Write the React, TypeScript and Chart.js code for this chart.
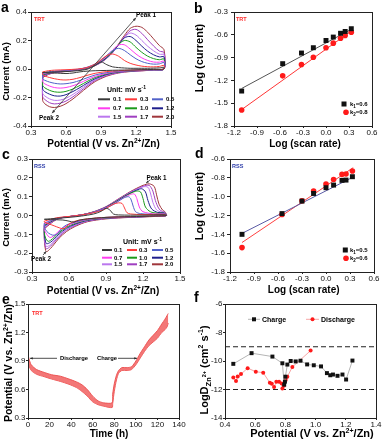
import React, { useEffect, useRef } from 'react';
import { Chart, registerables } from 'chart.js';

Chart.register(...registerables);

const FONT = '"Liberation Sans", Arial, Helvetica, sans-serif';

/* ======================= DATA ======================= */
const SCAN_RATES = ['0.1', '0.3', '0.5', '0.7', '1.0', '1.2', '1.5', '1.7', '2.0'];
const CV_COLORS = ['#3a3a3a', '#ff3b3b', '#5262c9', '#ff3cf0', '#1b9a1b', '#1e1e8c', '#bb77ee', '#9f3fc0', '#a0363c'];

// (a) TRT CV curves: potential grids (V) and currents (mA)
const A_V_UP = [0.40, 0.45, 0.50, 0.60, 0.70, 0.78, 0.85, 0.90, 0.95, 1.00, 1.05, 1.10, 1.15, 1.20, 1.25, 1.30, 1.35, 1.40, 1.44];
const A_V_DOWN = [1.44, 1.35, 1.25, 1.15, 1.05, 0.95, 0.85, 0.78, 0.72, 0.66, 0.60, 0.55, 0.50, 0.46, 0.42, 0.40];

const A_UP_01 = [-0.025, -0.022, -0.020, -0.018, -0.012, -0.002, 0.025, 0.050, 0.030, 0.015, 0.010, 0.007, 0.005, 0.005, 0.005, 0.005, 0.006, 0.008, 0.012];
const A_DN_01 = [0.000, -0.003, -0.005, -0.007, -0.008, -0.010, -0.012, -0.015, -0.020, -0.028, -0.032, -0.030, -0.028, -0.027, -0.026, -0.025];
const A_UP_03 = [-0.020, -0.012, -0.008, -0.005, 0.000, 0.010, 0.035, 0.065, 0.095, 0.105, 0.090, 0.060, 0.040, 0.028, 0.020, 0.016, 0.015, 0.018, 0.025];
const A_DN_03 = [0.000, -0.003, -0.006, -0.008, -0.012, -0.018, -0.030, -0.045, -0.060, -0.072, -0.077, -0.075, -0.068, -0.060, -0.050, -0.040];
const A_UP_05 = [-0.030, -0.020, -0.015, -0.010, -0.002, 0.012, 0.035, 0.060, 0.095, 0.130, 0.145, 0.130, 0.100, 0.072, 0.052, 0.040, 0.034, 0.036, 0.045];
const A_DN_05 = [0.000, -0.004, -0.007, -0.010, -0.015, -0.025, -0.042, -0.062, -0.080, -0.095, -0.103, -0.105, -0.100, -0.092, -0.080, -0.070];
const A_UP_07 = [-0.035, -0.025, -0.018, -0.012, -0.004, 0.010, 0.033, 0.057, 0.090, 0.133, 0.168, 0.170, 0.140, 0.105, 0.078, 0.060, 0.049, 0.048, 0.055];
const A_DN_07 = [0.000, -0.005, -0.008, -0.012, -0.018, -0.030, -0.052, -0.075, -0.098, -0.117, -0.130, -0.134, -0.130, -0.120, -0.105, -0.090];
const A_UP_10 = [-0.040, -0.028, -0.020, -0.013, -0.005, 0.008, 0.030, 0.053, 0.085, 0.125, 0.172, 0.200, 0.190, 0.152, 0.117, 0.090, 0.073, 0.065, 0.070];
const A_DN_10 = [0.000, -0.005, -0.009, -0.013, -0.020, -0.034, -0.060, -0.088, -0.115, -0.140, -0.157, -0.163, -0.160, -0.150, -0.133, -0.115];
const A_UP_12 = [-0.045, -0.030, -0.022, -0.014, -0.006, 0.007, 0.028, 0.050, 0.080, 0.120, 0.170, 0.218, 0.228, 0.200, 0.160, 0.125, 0.100, 0.085, 0.085];
const A_DN_12 = [0.000, -0.006, -0.010, -0.014, -0.022, -0.038, -0.068, -0.100, -0.130, -0.158, -0.180, -0.190, -0.188, -0.177, -0.160, -0.140];
const A_UP_15 = [-0.050, -0.033, -0.024, -0.015, -0.006, 0.006, 0.026, 0.048, 0.078, 0.117, 0.168, 0.222, 0.252, 0.238, 0.200, 0.160, 0.128, 0.104, 0.100];
const A_DN_15 = [0.000, -0.006, -0.011, -0.015, -0.024, -0.042, -0.075, -0.110, -0.145, -0.178, -0.205, -0.218, -0.220, -0.210, -0.190, -0.170];
const A_UP_17 = [-0.055, -0.035, -0.025, -0.016, -0.006, 0.005, 0.025, 0.047, 0.076, 0.115, 0.170, 0.225, 0.268, 0.278, 0.250, 0.205, 0.162, 0.126, 0.115];
const A_DN_17 = [0.000, -0.007, -0.012, -0.016, -0.026, -0.045, -0.080, -0.120, -0.158, -0.195, -0.225, -0.240, -0.245, -0.237, -0.215, -0.195];
const A_UP_20 = [-0.060, -0.038, -0.027, -0.017, -0.007, 0.004, 0.024, 0.046, 0.076, 0.118, 0.175, 0.235, 0.285, 0.300, 0.292, 0.258, 0.212, 0.165, 0.135];
const A_DN_20 = [0.000, -0.007, -0.013, -0.018, -0.028, -0.050, -0.088, -0.130, -0.170, -0.210, -0.243, -0.262, -0.270, -0.265, -0.245, -0.220];

const A_UP = [A_UP_01, A_UP_03, A_UP_05, A_UP_07, A_UP_10, A_UP_12, A_UP_15, A_UP_17, A_UP_20];
const A_DN = [A_DN_01, A_DN_03, A_DN_05, A_DN_07, A_DN_10, A_DN_12, A_DN_15, A_DN_17, A_DN_20];

// (b) TRT log(peak current) vs log(scan rate)
const B_LOG_RATE = [-1.1, -0.565, -0.32, -0.165, 0.0, 0.095, 0.19, 0.25, 0.33];
const B_PEAK1 = [-1.34, -0.98, -0.84, -0.77, -0.675, -0.63, -0.58, -0.556, -0.52];
const B_PEAK2 = [-1.59, -1.14, -0.99, -0.895, -0.77, -0.71, -0.645, -0.61, -0.565];
const B_FIT_X = [-1.1, 0.335];
const B_FIT1_Y = [-1.306, -0.525];
const B_FIT2_Y = [-1.584, -0.547];

// (c) RSS CV loops [V, mA]
const C_01 = [[0.40, -0.020], [0.50, -0.015], [0.60, -0.010], [0.70, -0.003], [0.80, 0.008], [0.86, 0.022], [0.90, 0.038], [0.93, 0.030], [0.96, 0.008], [1.00, 0.003], [1.20, 0.002], [1.37, 0.004], [1.39, 0.000], [1.30, -0.003], [1.10, -0.006], [0.90, -0.010], [0.75, -0.018], [0.68, -0.025], [0.64, -0.035], [0.60, -0.030], [0.55, -0.024], [0.45, -0.022], [0.40, -0.020]];
const C_03 = [[0.40, -0.030], [0.50, -0.012], [0.60, -0.005], [0.70, 0.003], [0.80, 0.015], [0.88, 0.030], [0.92, 0.045], [0.96, 0.060], [1.00, 0.067], [1.03, 0.064], [1.05, 0.040], [1.07, 0.015], [1.10, 0.008], [1.20, 0.005], [1.37, 0.006], [1.39, 0.000], [1.30, -0.003], [1.10, -0.006], [0.90, -0.010], [0.75, -0.018], [0.65, -0.030], [0.60, -0.045], [0.57, -0.065], [0.55, -0.070], [0.52, -0.065], [0.48, -0.055], [0.44, -0.045], [0.40, -0.035], [0.40, -0.030]];
const C_05 = [[0.40, -0.040], [0.50, -0.015], [0.60, -0.006], [0.70, 0.003], [0.80, 0.016], [0.90, 0.040], [0.95, 0.055], [1.00, 0.075], [1.04, 0.092], [1.08, 0.100], [1.10, 0.090], [1.12, 0.050], [1.14, 0.020], [1.18, 0.010], [1.30, 0.006], [1.37, 0.008], [1.39, 0.000], [1.30, -0.003], [1.10, -0.006], [0.90, -0.010], [0.75, -0.020], [0.65, -0.035], [0.58, -0.050], [0.54, -0.070], [0.51, -0.095], [0.48, -0.105], [0.45, -0.100], [0.42, -0.085], [0.40, -0.060], [0.40, -0.040]];
const C_07 = [[0.40, -0.045], [0.50, -0.016], [0.60, -0.006], [0.70, 0.003], [0.80, 0.017], [0.90, 0.042], [0.95, 0.058], [1.00, 0.077], [1.05, 0.097], [1.10, 0.112], [1.13, 0.114], [1.15, 0.090], [1.17, 0.045], [1.20, 0.020], [1.30, 0.008], [1.37, 0.010], [1.39, 0.000], [1.30, -0.003], [1.10, -0.007], [0.90, -0.012], [0.75, -0.022], [0.65, -0.038], [0.58, -0.055], [0.53, -0.075], [0.49, -0.100], [0.46, -0.115], [0.44, -0.115], [0.42, -0.100], [0.40, -0.075], [0.40, -0.045]];
const C_10 = [[0.40, -0.050], [0.50, -0.017], [0.60, -0.006], [0.70, 0.003], [0.80, 0.018], [0.90, 0.043], [1.00, 0.080], [1.05, 0.100], [1.10, 0.118], [1.15, 0.130], [1.18, 0.125], [1.20, 0.090], [1.22, 0.045], [1.26, 0.020], [1.32, 0.012], [1.37, 0.012], [1.39, 0.000], [1.30, -0.003], [1.10, -0.007], [0.90, -0.013], [0.75, -0.024], [0.65, -0.042], [0.58, -0.062], [0.52, -0.090], [0.48, -0.115], [0.45, -0.132], [0.43, -0.137], [0.41, -0.120], [0.40, -0.090], [0.40, -0.050]];
const C_12 = [[0.40, -0.055], [0.50, -0.018], [0.60, -0.006], [0.70, 0.003], [0.80, 0.018], [0.90, 0.044], [1.00, 0.082], [1.05, 0.102], [1.10, 0.120], [1.15, 0.135], [1.19, 0.142], [1.22, 0.125], [1.24, 0.080], [1.27, 0.035], [1.32, 0.016], [1.37, 0.014], [1.39, 0.000], [1.30, -0.004], [1.10, -0.008], [0.90, -0.014], [0.75, -0.026], [0.65, -0.046], [0.58, -0.068], [0.52, -0.098], [0.48, -0.125], [0.45, -0.142], [0.42, -0.150], [0.41, -0.140], [0.40, -0.100], [0.40, -0.055]];
const C_15 = [[0.40, -0.060], [0.50, -0.019], [0.60, -0.006], [0.70, 0.003], [0.80, 0.019], [0.90, 0.045], [1.00, 0.084], [1.05, 0.104], [1.10, 0.123], [1.15, 0.138], [1.20, 0.152], [1.24, 0.150], [1.26, 0.120], [1.28, 0.070], [1.31, 0.030], [1.35, 0.018], [1.37, 0.016], [1.39, 0.000], [1.30, -0.004], [1.10, -0.008], [0.90, -0.015], [0.75, -0.028], [0.65, -0.050], [0.58, -0.074], [0.52, -0.106], [0.48, -0.135], [0.45, -0.155], [0.42, -0.165], [0.41, -0.158], [0.40, -0.110], [0.40, -0.060]];
const C_17 = [[0.40, -0.065], [0.50, -0.020], [0.60, -0.006], [0.70, 0.003], [0.80, 0.019], [0.90, 0.046], [1.00, 0.086], [1.05, 0.106], [1.10, 0.125], [1.15, 0.141], [1.20, 0.155], [1.25, 0.160], [1.28, 0.130], [1.30, 0.080], [1.33, 0.035], [1.36, 0.020], [1.375, 0.018], [1.39, 0.000], [1.30, -0.004], [1.10, -0.009], [0.90, -0.016], [0.75, -0.030], [0.65, -0.053], [0.58, -0.078], [0.52, -0.112], [0.48, -0.142], [0.45, -0.163], [0.42, -0.177], [0.41, -0.170], [0.40, -0.120], [0.40, -0.065]];
const C_20 = [[0.40, -0.070], [0.50, -0.021], [0.60, -0.006], [0.70, 0.003], [0.80, 0.020], [0.90, 0.047], [1.00, 0.088], [1.05, 0.108], [1.10, 0.128], [1.15, 0.145], [1.20, 0.160], [1.25, 0.168], [1.29, 0.155], [1.31, 0.110], [1.33, 0.060], [1.36, 0.028], [1.375, 0.022], [1.39, 0.000], [1.30, -0.005], [1.10, -0.010], [0.90, -0.018], [0.75, -0.033], [0.65, -0.058], [0.58, -0.085], [0.52, -0.120], [0.48, -0.152], [0.45, -0.175], [0.42, -0.192], [0.41, -0.185], [0.40, -0.130], [0.40, -0.070]];
const C_LOOPS = [C_01, C_03, C_05, C_07, C_10, C_12, C_15, C_17, C_20];

// (d) RSS log(peak current) vs log(scan rate)
const D_LOG_RATE = [-1.05, -0.55, -0.3, -0.155, 0.0, 0.095, 0.2, 0.25, 0.33];
const D_PEAK1 = [-1.40, -1.18, -1.047, -0.966, -0.905, -0.877, -0.827, -0.824, -0.788];
const D_PEAK2 = [-1.541, -1.189, -1.044, -0.941, -0.866, -0.817, -0.763, -0.76, -0.728];
const D_FIT1_X = [-1.05, 0.32];
const D_FIT1_Y = [-1.39, -0.80];
const D_FIT2_X = [-1.05, 0.34];
const D_FIT2_Y = [-1.487, -0.692];

// (e) TRT GITT potential band vs time
const E_TIME = [0, 1, 3, 8, 15, 22, 30, 38, 45, 50, 55, 60, 65, 70, 78, 78.5, 80, 82, 84, 87, 92, 96, 100, 104, 108, 112, 116, 120, 124, 127, 129, 130];
const E_UPPER = [0.97, 0.92, 0.86, 0.81, 0.78, 0.755, 0.74, 0.71, 0.68, 0.65, 0.60, 0.53, 0.48, 0.46, 0.46, 0.55, 0.66, 0.75, 0.80, 0.83, 0.83, 0.84, 0.90, 0.98, 1.05, 1.12, 1.17, 1.22, 1.29, 1.34, 1.38, 1.40];
const E_LOWER = [0.90, 0.85, 0.80, 0.76, 0.735, 0.71, 0.685, 0.655, 0.62, 0.58, 0.53, 0.47, 0.44, 0.425, 0.41, 0.45, 0.58, 0.70, 0.77, 0.80, 0.80, 0.81, 0.86, 0.93, 1.00, 1.06, 1.10, 1.14, 1.20, 1.23, 1.26, 1.30];

// (f) diffusion coefficients
const F_CH_V = [0.455, 0.576, 0.714, 0.78, 0.792, 0.797, 0.80, 0.813, 0.835, 0.868, 0.90, 0.944, 0.988, 1.036, 1.075, 1.097, 1.115, 1.145, 1.178, 1.202, 1.244];
const F_CH_LOGD = [-10.2, -9.45, -9.69, -10.16, -11.66, -11.45, -11.1, -10.25, -10.0, -10.03, -9.98, -10.24, -10.3, -10.38, -10.85, -11.0, -10.95, -11.04, -10.95, -11.3, -9.97];
const F_DIS_V = [0.455, 0.473, 0.484, 0.506, 0.55, 0.604, 0.653, 0.697, 0.71, 0.725, 0.74, 0.758, 0.775, 0.78, 0.79, 0.802, 0.813, 0.846, 0.967];
const F_DIS_LOGD = [-11.16, -11.4, -11.08, -10.92, -10.5, -10.75, -10.82, -11.53, -11.6, -11.83, -11.46, -11.46, -11.58, -11.93, -11.74, -11.34, -11.1, -10.42, -9.27];
const F_REF_LEVELS = [-9, -12];

/* ======================= HELPERS ======================= */
type Seg = [string, number, number?];

function rich(ctx: any, segs: Seg[], x: number, y: number, o: any = {}) {
  ctx.save();
  ctx.translate(x, y);
  if (o.rot) ctx.rotate(-Math.PI / 2);
  const wt = o.bold === false ? '' : 'bold ';
  const widths = segs.map(([t, s]) => { ctx.font = `${wt}${s}px ${FONT}`; return ctx.measureText(t).width; });
  const total = widths.reduce((a, b) => a + b, 0);
  let cx = o.align === 'center' ? -total / 2 : o.align === 'right' ? -total : 0;
  const base = segs[0][1] * 0.36;
  ctx.fillStyle = o.color || '#000';
  ctx.textAlign = 'left';
  ctx.textBaseline = 'alphabetic';
  segs.forEach(([t, s, dy], i) => {
    ctx.font = `${wt}${s}px ${FONT}`;
    ctx.fillText(t, cx, base + (dy || 0));
    cx += widths[i];
  });
  ctx.restore();
}

function arrow(ctx: any, x1: number, y1: number, x2: number, y2: number, color: string, start: boolean, end: boolean, lw = 1, hl = 4) {
  ctx.save();
  ctx.strokeStyle = color; ctx.fillStyle = color; ctx.lineWidth = lw;
  ctx.beginPath(); ctx.moveTo(x1, y1); ctx.lineTo(x2, y2); ctx.stroke();
  const head = (xa: number, ya: number, xb: number, yb: number) => {
    const ang = Math.atan2(yb - ya, xb - xa);
    ctx.beginPath(); ctx.moveTo(xb, yb);
    ctx.lineTo(xb - hl * Math.cos(ang - 0.4), yb - hl * Math.sin(ang - 0.4));
    ctx.lineTo(xb - hl * Math.cos(ang + 0.4), yb - hl * Math.sin(ang + 0.4));
    ctx.closePath(); ctx.fill();
  };
  if (end) head(x1, y1, x2, y2);
  if (start) head(x2, y2, x1, y1);
  ctx.restore();
}

function cvLegend(c: any, ux: number, uy: number, rows: number[], lines: number[][], texts: number[]) {
  rich(c, [['Unit: mV s', 7], ['-1', 5, -3]], ux, uy);
  SCAN_RATES.forEach((r, i) => {
    const y = rows[Math.floor(i / 3)], col = i % 3;
    c.save(); c.strokeStyle = CV_COLORS[i]; c.lineWidth = 2;
    c.beginPath(); c.moveTo(lines[col][0], y); c.lineTo(lines[col][1], y); c.stroke(); c.restore();
    rich(c, [[r, 6]], texts[col], y);
  });
}

function sq(c: any, x: number, y: number, s: number, color: string) { c.fillStyle = color; c.fillRect(x - s / 2, y - s / 2, s, s); }
function dot(c: any, x: number, y: number, r: number, color: string) { c.fillStyle = color; c.beginPath(); c.arc(x, y, r, 0, Math.PI * 2); c.fill(); }

function scale(a: any, isX: boolean, fit: number) {
  return {
    type: 'linear', min: a.min, max: a.max, position: isX ? 'bottom' : 'left',
    afterFit: (s: any) => { if (isX) s.height = fit; else s.width = fit; },
    ticks: {
      stepSize: a.step, autoSkip: false, maxRotation: 0, minRotation: 0, padding: a.pad, color: '#111',
      font: { family: FONT, size: 8, lineHeight: 1 },
      callback: (v: any) => Number(v).toFixed(a.dec),
    },
    grid: { display: true, drawOnChartArea: false, drawTicks: true, tickLength: a.len, tickColor: '#222', tickWidth: 1 },
    border: { display: true, color: '#222', width: 1 },
    title: { display: false },
  };
}

const pts = (xs: number[], ys: number[]) => xs.map((x, i) => ({ x, y: ys[i] }));

/* ======================= PANELS ======================= */
const PANELS: any[] = [
  { // a
    left: 0, top: 0, w: 192, h: 152, area: [31, 12, 171, 126],
    x: { min: 0.3, max: 1.5, step: 0.3, dec: 1, len: 2, pad: 0.5 },
    y: { min: -0.4, max: 0.4, step: 0.2, dec: 1, len: 3, pad: 1 },
    datasets: A_UP.map((up, k) => ({
      data: [...pts(A_V_UP, up), ...pts(A_V_DOWN, A_DN[k]), { x: A_V_UP[0], y: up[0] }],
      borderColor: CV_COLORS[k], borderWidth: 1, pointRadius: 0, tension: 0.3, fill: false,
    })),
    draw: (ch: any) => {
      const c = ch.ctx, X = (v: number) => ch.scales.x.getPixelForValue(v), Y = (v: number) => ch.scales.y.getPixelForValue(v);
      rich(c, [['a', 14]], 1, 7);
      rich(c, [['Potential (V vs. Zn', 10], ['2+', 6.5, -4], ['/Zn)', 10]], 103.5, 143, { align: 'center' });
      rich(c, [['Current (mA)', 9.5]], 6, 71.5, { align: 'center', rot: true });
      rich(c, [['TRT', 5.5]], 34, 19, { color: '#ff2a2a' });
      arrow(c, X(0.48), Y(-0.31), X(1.20), Y(0.36), '#333', true, true, 0.8, 3.5);
      rich(c, [['Peak 1', 6.3]], X(1.285), Y(0.381), { align: 'center' });
      rich(c, [['Peak 2', 6.3]], X(0.454), Y(-0.339), { align: 'center' });
      cvLegend(c, 107, 89, [99.3, 108.3, 116.7], [[98, 110], [125, 137], [152, 163]], [113, 140, 166]);
    },
  },
  { // b
    left: 192, top: 0, w: 192, h: 152, area: [42, 12, 180, 126],
    x: { min: -1.2, max: 0.6, step: 0.3, dec: 1, len: 2, pad: 0.5 },
    y: { min: -1.8, max: -0.3, step: 0.3, dec: 1, len: 3, pad: 3 },
    datasets: [
      { data: pts(B_LOG_RATE, B_PEAK1), showLine: false, pointStyle: 'rect', pointRadius: 3.5, pointBackgroundColor: '#111', pointBorderWidth: 0 },
      { data: pts(B_LOG_RATE, B_PEAK2), showLine: false, pointStyle: 'circle', pointRadius: 2.8, pointBackgroundColor: '#ff1a1a', pointBorderWidth: 0 },
      { data: pts(B_FIT_X, B_FIT1_Y), borderColor: '#555', borderWidth: 1, pointRadius: 0 },
      { data: pts(B_FIT_X, B_FIT2_Y), borderColor: '#ff3535', borderWidth: 1, pointRadius: 0 },
    ],
    draw: (ch: any) => {
      const c = ch.ctx;
      rich(c, [['b', 14]], 2, 8);
      rich(c, [['Log (scan rate)', 10]], 113, 143, { align: 'center' });
      rich(c, [['Log (current)', 11]], 7.5, 58, { align: 'center', rot: true });
      rich(c, [['TRT', 5.5]], 44, 19.3, { color: '#ff2a2a' });
      sq(c, 152, 104, 5, '#111');
      rich(c, [['k', 6], ['1', 4.5, 1.5], ['=0.6', 6]], 158, 104);
      dot(c, 154, 112.3, 2.8, '#ff1a1a');
      rich(c, [['k', 6], ['2', 4.5, 1.5], ['=0.8', 6]], 158, 112.3);
    },
  },
  { // c
    left: 0, top: 145, w: 192, h: 152, area: [32, 14, 180, 127],
    x: { min: 0.3, max: 1.5, step: 0.3, dec: 1, len: 2, pad: 0.5 },
    y: { min: -0.3, max: 0.3, step: 0.1, dec: 1, len: 3, pad: 1 },
    datasets: C_LOOPS.map((loop, k) => ({
      data: loop.map(([x, y]) => ({ x, y })),
      borderColor: CV_COLORS[k], borderWidth: 1, pointRadius: 0, tension: 0.3, fill: false,
    })),
    draw: (ch: any) => {
      const c = ch.ctx, X = (v: number) => ch.scales.x.getPixelForValue(v), Y = (v: number) => ch.scales.y.getPixelForValue(v);
      rich(c, [['c', 14]], 2, 9);
      rich(c, [['Potential (V vs. Zn', 10], ['2+', 6.5, -4], ['/Zn)', 10]], 103, 145, { align: 'center' });
      rich(c, [['Current (mA)', 9.5]], 6, 72.5, { align: 'center', rot: true });
      rich(c, [['RSS', 5.5]], 34, 20.7, { color: '#2a3aa8' });
      rich(c, [['Peak 1', 6.3]], X(1.31), Y(0.2), { align: 'center' });
      arrow(c, X(1.26), Y(0.19), X(1.225), Y(0.172), '#333', false, true, 0.8, 3);
      rich(c, [['Peak 2', 6.3]], X(0.373), Y(-0.227), { align: 'center' });
      arrow(c, X(0.39), Y(-0.21), X(0.415), Y(-0.19), '#333', false, true, 0.8, 3);
      cvLegend(c, 123, 96, [105, 112.7, 119.3], [[102, 112], [127, 137], [152, 163]], [114, 139, 165]);
    },
  },
  { // d
    left: 192, top: 145, w: 192, h: 152, area: [38, 14, 182, 127],
    x: { min: -1.2, max: 0.6, step: 0.3, dec: 1, len: 2, pad: 0.5 },
    y: { min: -1.8, max: -0.6, step: 0.2, dec: 1, len: 3, pad: 2 },
    datasets: [
      { data: pts(D_LOG_RATE, D_PEAK1), showLine: false, pointStyle: 'rect', pointRadius: 3.5, pointBackgroundColor: '#111', pointBorderWidth: 0 },
      { data: pts(D_LOG_RATE, D_PEAK2), showLine: false, pointStyle: 'circle', pointRadius: 2.8, pointBackgroundColor: '#ff1a1a', pointBorderWidth: 0 },
      { data: pts(D_FIT1_X, D_FIT1_Y), borderColor: '#5a5aa5', borderWidth: 1, pointRadius: 0 },
      { data: pts(D_FIT2_X, D_FIT2_Y), borderColor: '#ff4040', borderWidth: 1, pointRadius: 0 },
    ],
    draw: (ch: any) => {
      const c = ch.ctx;
      rich(c, [['d', 14]], 3, 8);
      rich(c, [['Log (scan rate)', 10]], 111.7, 144.3, { align: 'center' });
      rich(c, [['Log (current)', 11]], 7, 61, { align: 'center', rot: true });
      rich(c, [['RSS', 5.5]], 40, 20.7, { color: '#2a3aa8' });
      sq(c, 153.3, 105, 5, '#111');
      rich(c, [['k', 6], ['1', 4.5, 1.5], ['=0.5', 6]], 158, 105);
      dot(c, 154, 113.3, 2.8, '#ff1a1a');
      rich(c, [['k', 6], ['2', 4.5, 1.5], ['=0.6', 6]], 158, 113.3);
    },
  },
  { // e
    left: 0, top: 290, w: 192, h: 150, area: [28, 14, 179, 128],
    x: { min: 0, max: 140, step: 20, dec: 0, len: 2, pad: 0.5 },
    y: { min: 0.3, max: 1.5, step: 0.3, dec: 1, len: 2, pad: 0.5 },
    datasets: [
      { data: pts(E_TIME, E_UPPER), borderColor: 'rgba(236,80,80,0.95)', borderWidth: 1, backgroundColor: 'rgba(242,104,104,0.9)', fill: '+1', pointRadius: 0, tension: 0.25 },
      { data: pts(E_TIME, E_LOWER), borderColor: 'rgba(236,80,80,0.95)', borderWidth: 1, fill: false, pointRadius: 0, tension: 0.25 },
    ],
    draw: (ch: any) => {
      const c = ch.ctx;
      rich(c, [['e', 14]], 2, 8.5);
      rich(c, [['Time (h)', 10]], 109, 143, { align: 'center' });
      rich(c, [['Potential (V vs. Zn', 10.5], ['2+', 7, -4.5], ['/Zn)', 10.5]], 8.3, 73, { align: 'center', rot: true });
      rich(c, [['TRT', 5.5]], 32, 22.7, { color: '#ff2a2a' });
      arrow(c, 57, 68.3, 30, 68.3, '#222', false, true, 0.8, 3);
      rich(c, [['Discharge', 5.8]], 60, 68.3);
      rich(c, [['Charge', 5.8]], 97, 68.3);
      arrow(c, 118, 68.3, 137, 68.3, '#222', false, true, 0.8, 3);
    },
  },
  { // f
    left: 192, top: 290, w: 192, h: 150, area: [33, 14, 184, 128],
    x: { min: 0.4, max: 1.4, step: 0.2, dec: 1, len: 2, pad: 0.5 },
    y: { min: -14, max: -6, step: 2, dec: 0, len: 2, pad: 0.5 },
    datasets: [
      { data: pts(F_CH_V, F_CH_LOGD), borderColor: '#b5b5b5', borderWidth: 1, pointStyle: 'rect', pointRadius: 2.8, pointBackgroundColor: '#111', pointBorderWidth: 0, tension: 0 },
      { data: pts(F_DIS_V, F_DIS_LOGD), borderColor: '#f7a5a5', borderWidth: 1, pointStyle: 'circle', pointRadius: 2, pointBackgroundColor: '#ff1a1a', pointBorderWidth: 0, tension: 0 },
    ],
    under: (ch: any) => {
      const c = ch.ctx, X = (v: number) => ch.scales.x.getPixelForValue(v), Y = (v: number) => ch.scales.y.getPixelForValue(v);
      c.save(); c.setLineDash([5, 3]); c.strokeStyle = '#222'; c.lineWidth = 1.2;
      F_REF_LEVELS.forEach((v) => { c.beginPath(); c.moveTo(X(0.4), Y(v)); c.lineTo(X(1.4), Y(v)); c.stroke(); });
      c.restore();
    },
    draw: (ch: any) => {
      const c = ch.ctx;
      rich(c, [['f', 14]], 2, 7);
      rich(c, [['Potential (V vs. Zn', 11], ['2+', 7, -4.5], ['/Zn)', 11]], 120, 143.3, { align: 'center' });
      rich(c, [['LogD', 11], ['Zn', 7.5, 3], ['2+', 5.5, -1.5], [' (cm', 11], ['2', 7, -4.5], [' s', 11], ['-1', 7, -4.5], [')', 11]], 11.7, 80, { align: 'center', rot: true });
      c.save(); c.strokeStyle = '#b5b5b5'; c.lineWidth = 1; c.beginPath(); c.moveTo(56, 29.3); c.lineTo(68, 29.3); c.stroke(); c.restore();
      sq(c, 62, 29.3, 4, '#111');
      rich(c, [['Charge', 7]], 70, 29.3);
      c.save(); c.strokeStyle = '#f7a5a5'; c.lineWidth = 1; c.beginPath(); c.moveTo(114, 29.3); c.lineTo(127, 29.3); c.stroke(); c.restore();
      dot(c, 120.5, 29.3, 2, '#ff1a1a');
      rich(c, [['Discharge', 7]], 129, 29.3);
    },
  },
];

function buildConfig(p: any, idx: number) {
  return {
    type: 'line',
    data: { datasets: p.datasets },
    options: {
      animation: false, responsive: false, maintainAspectRatio: false, devicePixelRatio: 1,
      events: [],
      layout: { padding: { left: 0, top: p.area[1], right: p.w - p.area[2], bottom: 0 } },
      plugins: { legend: { display: false }, tooltip: { enabled: false }, title: { display: false } },
      scales: { x: scale(p.x, true, p.h - p.area[3]), y: scale(p.y, false, p.area[0]) },
      elements: { point: { radius: 0 } },
    },
    plugins: [{
      id: 'deco' + idx,
      beforeDatasetsDraw: (ch: any) => { if (p.under) p.under(ch); },
      afterDraw: (ch: any) => {
        const c = ch.ctx, a = ch.chartArea;
        c.save(); c.strokeStyle = '#222'; c.lineWidth = 1;
        c.strokeRect(Math.round(a.left) + 0.5, Math.round(a.top) + 0.5, Math.round(a.right - a.left), Math.round(a.bottom - a.top));
        c.restore();
        p.draw(ch);
      },
    }],
  };
}

export default function App() {
  const refs = useRef<(HTMLCanvasElement | null)[]>([]);
  useEffect(() => {
    const charts = PANELS.map((p, i) => new Chart(refs.current[i] as HTMLCanvasElement, buildConfig(p, i) as any));
    return () => charts.forEach((c) => c.destroy());
  }, []);
  return (
    <div style={{ position: 'absolute', left: 0, top: 0, width: 384, height: 440, background: '#fff' }}>
      {PANELS.map((p, i) => (
        <canvas key={i} ref={(el) => { refs.current[i] = el; }} width={p.w} height={p.h}
          style={{ position: 'absolute', left: p.left, top: p.top, width: p.w, height: p.h }} />
      ))}
    </div>
  );
}
